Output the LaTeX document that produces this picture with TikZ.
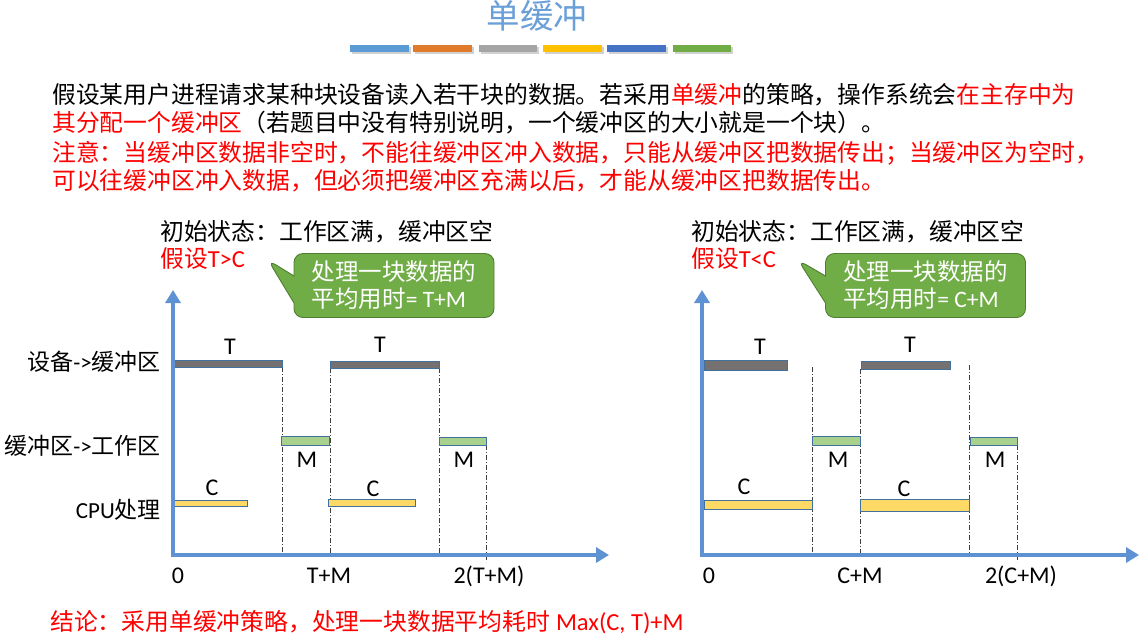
\documentclass[tikz,border=0pt]{standalone}
\usepackage{fontspec}
\setmainfont{Carlito}
\newfontfamily\cjk{Noto Sans CJK SC}
\usetikzlibrary{arrows.meta,shapes.callouts}
\definecolor{titleblue}{HTML}{6A9FD8}
\definecolor{cA}{HTML}{5B9BD5}
\definecolor{cB}{HTML}{E07B2B}
\definecolor{cC}{HTML}{A5A5A5}
\definecolor{cD}{HTML}{FFC000}
\definecolor{cE}{HTML}{4472C4}
\definecolor{cF}{HTML}{70AD47}
\definecolor{axisblue}{HTML}{5E92D2}
\definecolor{edgeblue}{HTML}{41719C}
\definecolor{barT}{HTML}{757171}
\definecolor{barM}{HTML}{A9D18E}
\definecolor{barC}{HTML}{FFD966}
\definecolor{callgreen}{HTML}{70AD47}
\definecolor{calledge}{HTML}{507E32}
\definecolor{myred}{HTML}{FF0000}
\tikzset{
  colorbar/.style={fill=#1, draw=none},
  barshadow/.style={fill=black!18, draw=none},
  axisline/.style={draw=axisblue, line width=4pt, -{Triangle[length=13pt,width=15pt]}},
  tbar/.style={fill=barT, draw=edgeblue, line width=0.7pt},
  mbar/.style={fill=barM, draw=edgeblue, line width=0.7pt},
  cbar/.style={fill=barC, draw=edgeblue, line width=0.7pt},
  guide/.style={draw=black!75, line width=0.8pt, dash pattern=on 5pt off 2pt on 1pt off 2pt},
  lbl/.style={font=\fontsize{24}{26}\selectfont, text=black, inner sep=0pt},
  cjktext/.style={font=\fontsize{23.8}{28}\selectfont\cjk, inner sep=0pt, anchor=west},
  rowlbl/.style={font=\fontsize{23}{26}\selectfont, inner sep=0pt, anchor=east},
  callbox/.style={rectangle callout, fill=callgreen, draw=calledge, line width=0.9pt,
    rounded corners=9pt, minimum width=200pt, minimum height=64pt, callout pointer width=27pt,
    text=white, align=left, font=\fontsize{23.5}{27}\selectfont, inner sep=0pt}
}
\begin{document}
\begin{tikzpicture}[x=1pt,y=-1pt]
\useasboundingbox[fill=white] (0,0) rectangle (1148,638);

% title
\node[font=\fontsize{33.5}{35}\selectfont\cjk, text=titleblue, inner sep=0pt] (title) at (537,16) {单缓冲};
% colour bars
\foreach \a/\b/\c [count=\i] in {350/409/cA,413/472/cB,479/537/cC,543/602/cD,607/666/cE,673/731/cF}{
  \fill[barshadow] (\a+1.5,46.5) rectangle (\b+1.5,53.5);
  \fill[colorbar=\c] (\a,45) rectangle (\b,52);
}

% paragraph
\node[cjktext] (p1) at (52,95) {假设某用户进程请求某种块设备读入若干块的数据。若采用\textcolor{myred}{单缓冲}的策略，操作系统会\textcolor{myred}{在主存中为}};
\node[cjktext] (p2) at (52,123) {\textcolor{myred}{其分配一个缓冲区}（若题目中没有特别说明，一个缓冲区的大小就是一个块）。};
\node[cjktext, text=myred] (p3) at (52,153) {注意：当缓冲区数据非空时，不能往缓冲区冲入数据，只能从缓冲区把数据传出；当缓冲区为空时，};
\node[cjktext, text=myred] (p4) at (52,181) {可以往缓冲区冲入数据，但必须把缓冲区充满以后，才能从缓冲区把数据传出。};

% headers
\node[cjktext] (hL) at (160,232) {初始状态：工作区满，缓冲区空};
\node[cjktext, text=myred] (aL) at (160,259) {假设{\fontspec{Carlito}\fontsize{24.5}{28}\selectfont T>C}};
\node[cjktext] (hR) at (691,232) {初始状态：工作区满，缓冲区空};
\node[cjktext, text=myred] (aR) at (691,259) {假设{\fontspec{Carlito}\fontsize{24.5}{28}\selectfont T<C}};

% callouts
\node[callbox, callout absolute pointer={(268,260)}] (cL) at (394,285.5)
  {{\cjk 处理一块数据的}\\{\cjk 平均用时}= T+M};
\node[callbox, callout absolute pointer={(798,260)}] (cR) at (925.5,285.5)
  {{\cjk 处理一块数据的}\\{\cjk 平均用时}= C+M};

% row labels
\node[rowlbl] (r1) at (161,362) {{\cjk 设备}->{\cjk 缓冲区}};
\node[rowlbl] (r2) at (161,446) {{\cjk 缓冲区}->{\cjk 工作区}};
\node[rowlbl] (r3) at (161,510) {CPU{\cjk 处理}};

% ---------- left chart ----------
\coordinate (LY) at (173,290);
\coordinate (LX) at (609,555);
\coordinate (LB) at (173,557);
\coordinate (LL) at (171,555);
\draw[guide] (282,367) -- (282,555);
\draw[guide] (330,368) -- (330,557);
\draw[guide] (439,368) -- (439,555);
\draw[guide] (486,445) -- (486,562);
\draw[tbar] (173,360.7) rectangle (282.5,367.3);
\draw[tbar] (330,361.7) rectangle (439,368.3);
\draw[mbar] (281.7,436.7) rectangle (329.3,445.3);
\draw[mbar] (439,437.7) rectangle (486,445.3);
\draw[cbar] (173,500.3) rectangle (247,506.3);
\draw[cbar] (328,499.3) rectangle (415,506.3);
\draw[axisline] (LB) -- (LY);
\draw[axisline] (LL) -- (LX);
\node[lbl] (lT1) at (230,347) {T};
\node[lbl] (lT2) at (380,345) {T};
\node[lbl] (lM1) at (307,460) {M};
\node[lbl] (lM2) at (464,460) {M};
\node[lbl] (lC1) at (212,488) {C};
\node[lbl] (lC2) at (373,489) {C};
\node[lbl] (lx0) at (178,576) {0};
\node[lbl] (lx1) at (329,576) {T+M};
\node[lbl] (lx2) at (489,576) {2(T+M)};

% ---------- right chart ----------
\coordinate (RY) at (702,290);
\coordinate (RX) at (1139,555);
\coordinate (RB) at (702,557);
\coordinate (RL) at (700,555);
\draw[guide] (812,367) -- (812,555);
\draw[guide] (860,369) -- (860,557);
\draw[guide] (969,365) -- (969,557);
\draw[guide] (1017,445) -- (1017,562);
\draw[tbar] (704,360) rectangle (787.7,370);
\draw[tbar] (861,361) rectangle (950,369);
\draw[mbar] (812,436) rectangle (860,445);
\draw[mbar] (970,437) rectangle (1017,445);
\draw[cbar] (704,500) rectangle (812,509);
\draw[cbar] (860,499) rectangle (969,511);
\draw[axisline] (RB) -- (RY);
\draw[axisline] (RL) -- (RX);
\node[lbl] (rT1) at (760,347) {T};
\node[lbl] (rT2) at (910,345) {T};
\node[lbl] (rM1) at (838,460) {M};
\node[lbl] (rM2) at (995,460) {M};
\node[lbl] (rC1) at (744,487) {C};
\node[lbl] (rC2) at (904,489) {C};
\node[lbl] (rx0) at (709,576) {0};
\node[lbl] (rx1) at (860,576) {C+M};
\node[lbl] (rx2) at (1021,576) {2(C+M)};

% conclusion
\node[cjktext, text=myred] (concl) at (50,622) {结论：采用单缓冲策略，处理一块数据平均耗时\hspace{6pt}{\fontspec{Carlito}\fontsize{24.5}{28}\selectfont Max(C, T)+M}};
\end{tikzpicture}
\end{document}
